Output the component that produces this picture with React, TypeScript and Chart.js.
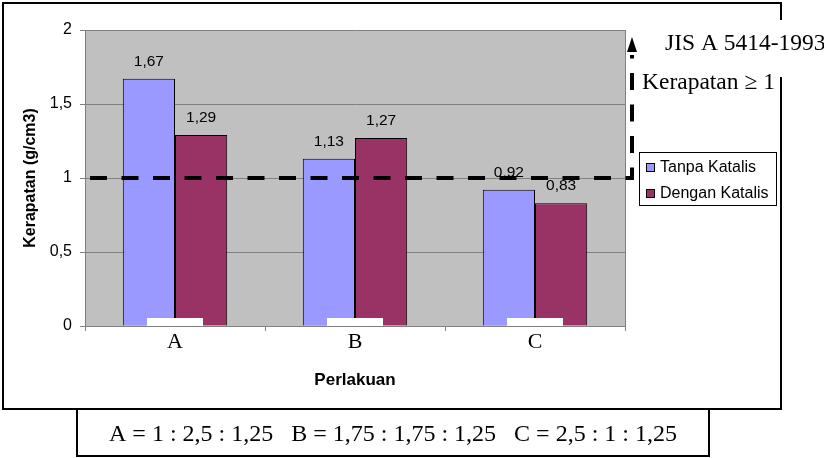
import React, { useEffect, useRef } from "react";
import { Chart, registerables } from "chart.js";

Chart.register(...registerables);

const categories = ["A", "B", "C"];
const seriesNames = ["Tanpa Katalis", "Dengan Katalis"];
const tanpaKatalis = [1.67, 1.13, 0.92];
const denganKatalis = [1.29, 1.27, 0.83];
const seriesColors = ["#9999FF", "#993366"];
const yMin = 0;
const yMax = 2;
const yStep = 0.5;
const threshold = 1;
const yTitle = "Kerapatan (g/cm3)";
const xTitle = "Perlakuan";
const standardLabel = "JIS A 5414-1993";
const thresholdLabel = "Kerapatan \u2265 1";
const ratioNote = "A = 1 : 2,5 : 1,25   B = 1,75 : 1,75 : 1,25   C = 2,5 : 1 : 1,25";

const SANS = '"Liberation Sans", Arial, sans-serif';
const SERIF = '"Liberation Serif", "Times New Roman", serif';
const fmt = (v: number) => String(v).replace(".", ",");

const overlay = {
  id: "overlay",
  beforeDraw(chart: any) {
    const { ctx, chartArea: a } = chart;
    ctx.save();
    ctx.fillStyle = "#ffffff";
    ctx.fillRect(0, 0, chart.width, chart.height);
    ctx.fillStyle = "#C0C0C0";
    ctx.fillRect(a.left, a.top, a.right - a.left, a.bottom - a.top);
    ctx.restore();
  },
  afterDraw(chart: any) {
    const { ctx, chartArea: a } = chart;
    const xs = chart.scales.x;
    const ys = chart.scales.y;
    ctx.save();

    // right border of plot area
    ctx.strokeStyle = "#808080";
    ctx.lineWidth = 1;
    ctx.beginPath();
    ctx.moveTo(a.right + 0.5, a.top);
    ctx.lineTo(a.right + 0.5, a.bottom);
    ctx.stroke();

    // data labels
    ctx.fillStyle = "#000";
    ctx.font = `15.5px ${SANS}`;
    ctx.textAlign = "center";
    ctx.textBaseline = "middle";
    chart.data.datasets.forEach((ds: any, di: number) => {
      const meta = chart.getDatasetMeta(di);
      meta.data.forEach((el: any, i: number) => {
        ctx.fillText(fmt(ds.data[i]), el.x, el.y - 17);
      });
    });

    // white label boxes under category names
    ctx.fillStyle = "#ffffff";
    categories.forEach((_c, i) => {
      const x = xs.getPixelForValue(i);
      ctx.fillRect(x - 28, a.bottom - 8, 56, 8);
    });

    // dashed threshold line with arrow
    const ty = ys.getPixelForValue(threshold);
    const cornerX = a.right + 7;
    ctx.strokeStyle = "#000";
    ctx.lineWidth = 4;
    ctx.setLineDash([17, 14.5]);
    ctx.beginPath();
    ctx.moveTo(a.left + 5, ty);
    ctx.lineTo(cornerX, ty);
    ctx.lineTo(cornerX, 55);
    ctx.stroke();
    ctx.setLineDash([]);
    ctx.fillStyle = "#000";
    ctx.beginPath();
    ctx.moveTo(cornerX, 37);
    ctx.lineTo(cornerX - 5, 52);
    ctx.lineTo(cornerX + 5, 52);
    ctx.closePath();
    ctx.fill();

    // outer frame
    ctx.strokeStyle = "#000";
    ctx.lineWidth = 2;
    ctx.beginPath();
    ctx.moveTo(781, 20);
    ctx.lineTo(781, 3);
    ctx.lineTo(3, 3);
    ctx.lineTo(3, 409);
    ctx.lineTo(781, 409);
    ctx.lineTo(781, 77);
    ctx.stroke();

    // note box
    ctx.strokeRect(77, 409, 632, 47);

    // serif texts
    ctx.fillStyle = "#000";
    ctx.textAlign = "left";
    ctx.textBaseline = "alphabetic";
    ctx.font = `23.5px ${SERIF}`;
    ctx.fillText(standardLabel, 665, 50);
    ctx.fillText(thresholdLabel, 642, 89);
    ctx.font = `24px ${SERIF}`;
    ctx.textAlign = "center";
    ctx.fillText(ratioNote, 393, 441);

    // legend
    ctx.lineWidth = 1;
    ctx.fillStyle = "#fff";
    ctx.fillRect(639.5, 152.5, 137, 53);
    ctx.strokeStyle = "#000";
    ctx.strokeRect(639.5, 152.5, 137, 53);
    ctx.font = `16px ${SANS}`;
    ctx.textAlign = "left";
    ctx.textBaseline = "middle";
    chart.data.datasets.forEach((ds: any, di: number) => {
      const cy = 167 + di * 26;
      ctx.fillStyle = ds.backgroundColor;
      ctx.fillRect(646.5, cy - 3.5, 8, 8);
      ctx.strokeRect(646.5, cy - 3.5, 8, 8);
      ctx.fillStyle = "#000";
      ctx.fillText(ds.label, 660, cy + 1);
    });

    ctx.restore();
  },
};

export default function App() {
  const ref = useRef<HTMLCanvasElement | null>(null);
  useEffect(() => {
    if (!ref.current) return;
    const chart = new Chart(ref.current, {
      type: "bar",
      data: {
        labels: categories,
        datasets: [
          {
            label: seriesNames[0],
            data: tanpaKatalis,
            backgroundColor: seriesColors[0],
            borderColor: "#000",
            borderWidth: 1,
            categoryPercentage: 0.58,
            barPercentage: 1,
          },
          {
            label: seriesNames[1],
            data: denganKatalis,
            backgroundColor: seriesColors[1],
            borderColor: "#000",
            borderWidth: 1,
            categoryPercentage: 0.58,
            barPercentage: 1,
          },
        ],
      },
      options: {
        responsive: false,
        animation: false,
        devicePixelRatio: 1,
        layout: { padding: { left: 0, right: 199, top: 30, bottom: 0 } },
        plugins: {
          legend: { display: false },
          tooltip: { enabled: false },
        },
        scales: {
          x: {
            afterFit: (s: any) => {
              s.height = 132;
            },
            grid: {
              drawOnChartArea: false,
              drawTicks: true,
              tickLength: 5,
              color: "#808080",
              offset: true,
            },
            border: { display: true, color: "#808080" },
            ticks: {
              color: "#000",
              padding: 0,
              font: { family: SERIF, size: 22, lineHeight: 1 },
            },
            title: {
              display: true,
              text: xTitle,
              color: "#000",
              font: { family: SANS, size: 17, weight: "bold", lineHeight: 1.2 },
              padding: { top: 0, bottom: 67 },
            },
          },
          y: {
            min: yMin,
            max: yMax,
            afterFit: (s: any) => {
              s.width = 85;
            },
            grid: {
              color: "#808080",
              tickLength: 5,
              drawTicks: true,
            },
            border: { display: true, color: "#808080" },
            ticks: {
              stepSize: yStep,
              color: "#000",
              padding: 8,
              font: { family: SANS, size: 16 },
              callback: (v: any) => fmt(Number(v)),
            },
            title: {
              display: true,
              text: yTitle,
              color: "#000",
              font: { family: SANS, size: 16, weight: "bold", lineHeight: 1.2 },
              padding: { top: 21, bottom: 0 },
            },
          },
        },
      },
      plugins: [overlay],
    } as any);
    return () => chart.destroy();
  }, []);
  return (
    <div style={{ position: "fixed", left: 0, top: 0, width: 824, height: 458, background: "#fff" }}>
      <canvas ref={ref} width={824} height={458} style={{ width: 824, height: 458, display: "block" }} />
    </div>
  );
}
